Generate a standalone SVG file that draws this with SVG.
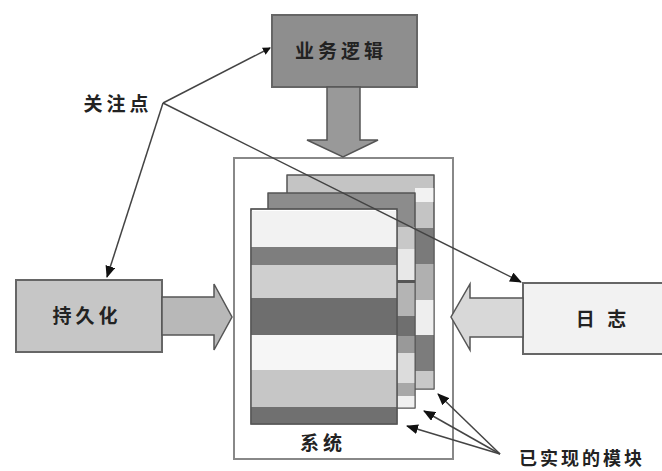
<svg xmlns="http://www.w3.org/2000/svg" width="662" height="471" viewBox="0 0 662 471">
<style>
.t{font-family:"Noto Sans CJK SC","Noto Sans CJK JP",sans-serif;font-weight:bold;fill:#222;font-size:19px;letter-spacing:4px}
.box{stroke:#666;stroke-width:2}
.arr{fill:#b8b8b8;stroke:#555;stroke-width:1.5}
.ln{stroke:#444;stroke-width:1.5;fill:none}
.b{stroke:#555;stroke-width:1}
</style>
<defs>
<marker id="ah" markerWidth="8" markerHeight="8" refX="7" refY="4" orient="auto" markerUnits="userSpaceOnUse">
<path d="M0,0 L8,4 L0,8 z" fill="#111"/>
</marker>
<marker id="ah2" markerWidth="12" markerHeight="10" refX="11" refY="5" orient="auto" markerUnits="userSpaceOnUse">
<path d="M0,0 L12,5 L0,10 z" fill="#111"/>
</marker>
</defs>
<rect width="662" height="471" fill="#fff"/>

<g id="system">
<rect x="234" y="158" width="219" height="301" fill="#fff" stroke="#888" stroke-width="2"/>
<rect x="287" y="175" width="147" height="214" fill="#c4c4c4" class="b"/>
<rect x="415" y="188" width="19" height="14" fill="#f2f2f2"/>
<rect x="415" y="228" width="19" height="36" fill="#7a7a7a"/>
<rect x="415" y="264" width="19" height="36" fill="#b0b0b0"/>
<rect x="415" y="300" width="19" height="35" fill="#eeeeee"/>
<rect x="415" y="335" width="19" height="36" fill="#7c7c7c"/>
<rect x="415" y="371" width="19" height="18" fill="#c8c8c8"/>
<rect x="287" y="175" width="147" height="214" fill="none" class="b"/>
<rect x="268" y="193" width="147" height="215" fill="#8c8c8c" class="b"/>
<rect x="397" y="227" width="18" height="22" fill="#c8c8c8"/>
<rect x="397" y="249" width="18" height="31" fill="#e8e8e8"/>
<rect x="397" y="280" width="18" height="3" fill="#555"/>
<rect x="397" y="283" width="18" height="33" fill="#b4b4b4"/>
<rect x="397" y="316" width="18" height="20" fill="#6f6f6f"/>
<rect x="397" y="336" width="18" height="17" fill="#999"/>
<rect x="397" y="353" width="18" height="30" fill="#dcdcdc"/>
<rect x="397" y="383" width="18" height="13" fill="#a8a8a8"/>
<rect x="397" y="396" width="18" height="12" fill="#f0f0f0"/>
<rect x="268" y="193" width="147" height="215" fill="none" class="b"/>
<rect x="251" y="209" width="146" height="215" fill="#fff" class="b"/>
<rect x="251" y="211" width="146" height="36" fill="#f2f2f2"/>
<rect x="251" y="247" width="146" height="18" fill="#7e7e7e"/>
<rect x="251" y="265" width="146" height="33" fill="#cfcfcf"/>
<rect x="251" y="298" width="146" height="37" fill="#6e6e6e"/>
<rect x="251" y="335" width="146" height="35" fill="#f6f6f6"/>
<rect x="251" y="370" width="146" height="37" fill="#c6c6c6"/>
<rect x="251" y="407" width="146" height="17" fill="#707070"/>
<rect x="251" y="209" width="146" height="215" fill="none" stroke="#555" stroke-width="1.5"/>
<text class="t" x="323" y="450" text-anchor="middle">系统</text>
</g>

<g id="business">
<rect x="272" y="15" width="145" height="72" fill="#8e8e8e" class="box"/>
<text class="t" x="341" y="58" text-anchor="middle">业务逻辑</text>
</g>

<g id="persistence">
<rect x="16" y="280" width="146" height="72" fill="#c6c6c6" class="box"/>
<text class="t" x="87" y="323" text-anchor="middle">持久化</text>
</g>

<g id="log">
<rect x="523" y="283" width="145" height="71" fill="#f2f2f2" class="box"/>
<text class="t" x="603" y="326" text-anchor="middle">日 志</text>
</g>

<g id="concern">
<text class="t" x="118" y="111" text-anchor="middle">关注点</text>
</g>

<g id="modules">
<text class="t" x="519" y="465" style="font-size:18px;letter-spacing:3px">已实现的模块</text>
</g>

<g id="connectors">
<path class="arr" style="fill:#999" d="M327,87 L360,87 L360,140 L378,140 L343,157 L307,140 L327,140 Z"/>
<path class="arr" d="M162,297 L214,297 L214,284 L232,317 L214,350 L214,335 L162,335 Z"/>
<path class="arr" style="fill:#d8d8d8" d="M523,298 L470,298 L470,284 L451,317 L470,350 L470,337 L523,337 Z"/>
<line class="ln" x1="163" y1="103" x2="270" y2="48" marker-end="url(#ah)"/>
<line class="ln" x1="163" y1="103" x2="107" y2="277" marker-end="url(#ah2)"/>
<line class="ln" x1="163" y1="103" x2="521" y2="282" marker-end="url(#ah2)"/>
<line class="ln" x1="500" y1="454" x2="438" y2="394" marker-end="url(#ah2)"/>
<line class="ln" x1="500" y1="454" x2="424" y2="411" marker-end="url(#ah2)"/>
<line class="ln" x1="500" y1="454" x2="407" y2="426" marker-end="url(#ah2)"/>
</g>
</svg>
